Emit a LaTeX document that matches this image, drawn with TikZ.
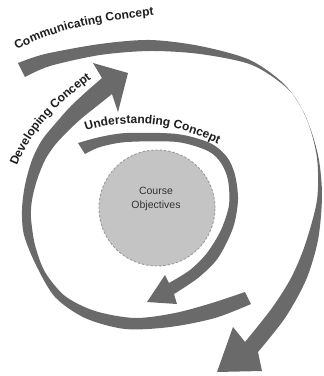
\documentclass[tikz,border=0pt]{standalone}
\usepackage{fontspec}
\setmainfont{Liberation Sans}
\usetikzlibrary{decorations.text}
\newcommand\lblfont{\fontsize{12}{14}\selectfont\bfseries}
\definecolor{bandgray}{HTML}{6A6A6A}
\definecolor{cfill}{HTML}{C4C4C4}
\definecolor{cborder}{HTML}{9A9A9A}
\definecolor{txt}{HTML}{1E1E1E}
\tikzset{
  band/.style={fill=bandgray},
  curvetext/.style={decorate, decoration={text along path, text align=left, text color=txt}},
}
\begin{document}
\begin{tikzpicture}[x=1pt,y=-1pt]
\useasboundingbox (0,0) rectangle (324,376);
\fill[white] (0,0) rectangle (324,376);

% objective circle
\node[circle, minimum size=116pt, inner sep=0pt, fill=cfill, draw=cborder, dash pattern=on 2.5pt off 1.8pt, line width=0.9pt] (obj) at (157,208) {};
\node[align=center, font=\fontsize{10.5}{14}\selectfont, text=black!80, inner sep=0pt] (objtext) at (156,199) {Course\\Objectives};

% outer arrow: Communicating Concept
\fill[band] plot[smooth] coordinates {(18,63) (45,54) (100,44) (150,40) (200,46) (250,60) (285,85) (305,115) (318,155) (322,195) (318,240) (306,280) (285,318) (258,352)}
  -- (262,371) -- (217,372) -- (233,327) --
  plot[smooth] coordinates {(245,342) (272,308) (291,278) (305,245) (317,200) (317,158) (307,120) (289,90) (252,65) (200,54) (150,51) (100,55) (50,66) (25,77)} -- cycle;

% middle arrow: Developing Concept
\fill[band] plot[smooth] coordinates {(251,304) (215,318) (170,327) (125,329) (85,318) (55,297) (36,265) (24,235) (22,210) (25,185) (32,160) (42,140) (55,124) (70,107) (86,92) (102,78)}
  -- (93,63) -- (128,73) -- (118,112) --
  plot[smooth] coordinates {(112,94) (97,106) (82,118) (68,131) (55,145) (45,160) (37,180) (32,200) (31,218) (35,245) (45,272) (65,296) (95,311) (135,318) (175,313) (212,303) (245,292)} -- cycle;

% inner arrow: Understanding Concept
\fill[band] plot[smooth] coordinates {(78,143) (100,137) (127,133) (177,134) (210,143) (227,157) (235,175) (238,200) (233,228) (218,258) (198,278) (174,294)}
  -- (177,304) -- (147,302) -- (165,275) --
  plot[smooth] coordinates {(169,283) (190,270) (207,253) (221,230) (229,205) (228,180) (221,163) (208,151) (177,142) (127,142) (100,147) (85,154)} -- cycle;

% labels along the arrows
\path[curvetext, decoration={text={|\lblfont|Communicating Concept}}] (17,50) .. controls (50,32) and (100,18) .. (185,13);
\path[curvetext, decoration={text={|\lblfont|Developing Concept}}] (17,166) .. controls (34,125) and (60,100) .. (115,62);
\path[curvetext, decoration={text={|\lblfont|Understanding Concept}}] (86,131) .. controls (120,120) and (175,116) .. (240,156);
\end{tikzpicture}
\end{document}
